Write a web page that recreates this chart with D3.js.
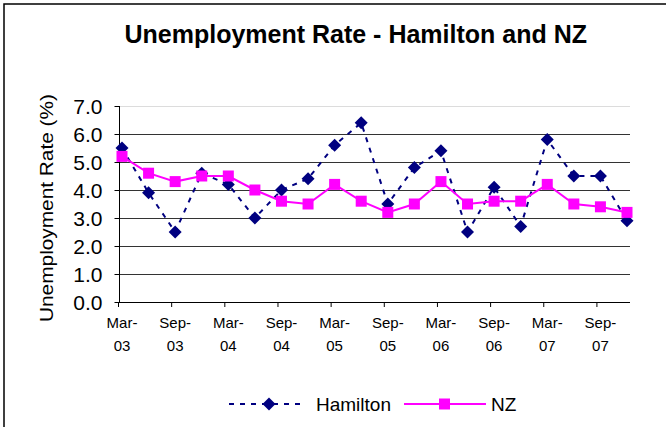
<!DOCTYPE html>
<html>
<head>
<meta charset="utf-8">
<script src="https://cdn.jsdelivr.net/npm/d3@7"></script>
<style>
  body { margin: 0; background: #fff; }
  #chart { width: 666px; height: 427px; }
  text { font-family: "Liberation Sans", Arial, sans-serif; }
</style>
</head>
<body>
<div id="chart"></div>
<script>
// quarterly categories, Mar-03 .. Dec-07
const quarters = ["Mar-03","Jun-03","Sep-03","Dec-03","Mar-04","Jun-04","Sep-04","Dec-04",
                  "Mar-05","Jun-05","Sep-05","Dec-05","Mar-06","Jun-06","Sep-06","Dec-06",
                  "Mar-07","Jun-07","Sep-07","Dec-07"];
const hamilton = [5.5, 3.9, 2.5, 4.6, 4.2, 3.0, 4.0, 4.4, 5.6, 6.4, 3.5, 4.8, 5.4, 2.5, 4.1, 2.7, 5.8, 4.5, 4.5, 2.9];
const nz       = [5.2, 4.6, 4.3, 4.5, 4.5, 4.0, 3.6, 3.5, 4.2, 3.6, 3.2, 3.5, 4.3, 3.5, 3.6, 3.6, 4.2, 3.5, 3.4, 3.2];
const yTicks = [0, 1, 2, 3, 4, 5, 6, 7];

const w = 666, h = 427;
const plot = { left: 119, right: 630, top: 106, bottom: 302 };

const svg = d3.select("#chart").append("svg")
    .attr("width", w)
    .attr("height", h);

// outer chart border (runs off the right/bottom of the picture)
svg.append("rect")
    .attr("x", 4).attr("y", 4)
    .attr("width", 700).attr("height", 500)
    .attr("fill", "#fff")
    .attr("stroke", "#000")
    .attr("stroke-width", 1.5);

// SCALES
const x = d3.scalePoint()
    .domain(quarters)
    .range([122, 627]);

const y = d3.scaleLinear()
    .domain([0, 7])
    .range([plot.bottom, plot.top]);

// title
svg.append("text")
    .attr("x", 587).attr("y", 43)
    .attr("text-anchor", "end")
    .attr("font-size", 25)
    .attr("font-weight", "bold")
    .text("Unemployment Rate - Hamilton and NZ");

// gridlines
svg.append("g")
    .selectAll("line")
    .data(yTicks.filter(d => d > 0))
    .join("line")
    .attr("x1", plot.left).attr("x2", plot.right)
    .attr("y1", d => y(d) + 0.5).attr("y2", d => y(d) + 0.5)
    .attr("stroke", d => d === 7 ? "#dcdcdc" : "#333")
    .attr("stroke-width", 1);

// Y AXIS
const yAxis = svg.append("g")
    .attr("transform", "translate(" + (plot.left + 0.5) + ",0)")
    .call(d3.axisLeft(y).tickValues(yTicks).tickFormat(d3.format(".1f")).tickSize(5).tickPadding(12));
yAxis.select(".domain").attr("stroke", "#000").attr("d", "M0," + plot.top + "V" + plot.bottom);
yAxis.selectAll(".tick line").attr("stroke", "#000");
yAxis.selectAll(".tick text")
    .attr("font-size", 21)
    .attr("font-family", "'Liberation Sans', Arial, sans-serif")
    .attr("fill", "#000")
    .attr("dy", "0.36em");

svg.append("text")
    .attr("transform", "translate(53," + ((plot.top + plot.bottom) / 2 + 4) + ") rotate(-90)")
    .attr("text-anchor", "middle")
    .attr("font-size", 19)
    .attr("textLength", 228)
    .attr("lengthAdjust", "spacingAndGlyphs")
    .text("Unemployment Rate (%)");

// X AXIS
svg.append("line")
    .attr("x1", plot.left).attr("x2", plot.right)
    .attr("y1", plot.bottom + 0.5).attr("y2", plot.bottom + 0.5)
    .attr("stroke", "#000");

const labelled = quarters.filter((d, i) => i % 2 === 0);

svg.append("g")
    .selectAll("line")
    .data(labelled)
    .join("line")
    .attr("x1", d => x(d) - 4 + 0.5).attr("x2", d => x(d) - 4 + 0.5)
    .attr("y1", plot.bottom).attr("y2", plot.bottom + 5)
    .attr("stroke", "#000");

const xl = svg.append("g")
    .selectAll("text")
    .data(labelled)
    .join("text")
    .attr("text-anchor", "middle")
    .attr("font-size", 15);
xl.append("tspan")
    .attr("x", d => x(d)).attr("y", 328)
    .text(d => d.split("-")[0] + "-");
xl.append("tspan")
    .attr("x", d => x(d)).attr("y", 351)
    .text(d => d.split("-")[1]);

// LINES
const line = d3.line()
    .x((d, i) => x(quarters[i]))
    .y(d => y(d));

const diamond = s => "M0," + (-s) + "L" + s + ",0L0," + s + "L" + (-s) + ",0Z";

function drawHamilton(g) {
    g.append("path")
        .datum(hamilton)
        .attr("d", line)
        .attr("fill", "none")
        .attr("stroke", "#000080")
        .attr("stroke-width", 2)
        .attr("stroke-dasharray", "5,6");
    g.selectAll(".dia")
        .data(hamilton)
        .join("path")
        .attr("class", "dia")
        .attr("transform", (d, i) => "translate(" + x(quarters[i]) + "," + y(d) + ")")
        .attr("d", diamond(6.5))
        .attr("fill", "#000080");
}

function drawNZ(g) {
    g.append("path")
        .datum(nz)
        .attr("d", line)
        .attr("fill", "none")
        .attr("stroke", "#ff00ff")
        .attr("stroke-width", 2);
    g.selectAll(".sq")
        .data(nz)
        .join("rect")
        .attr("class", "sq")
        .attr("x", (d, i) => x(quarters[i]) - 5.5)
        .attr("y", d => y(d) - 5.5)
        .attr("width", 11).attr("height", 11)
        .attr("fill", "#ff00ff");
}

drawHamilton(svg.append("g"));
drawNZ(svg.append("g"));

// LEGEND
const lg = svg.append("g").attr("transform", "translate(0,404)");
lg.append("line")
    .attr("x1", 229).attr("x2", 306)
    .attr("stroke", "#000080").attr("stroke-width", 2)
    .attr("stroke-dasharray", "5,6");
lg.append("path")
    .attr("transform", "translate(269,0)")
    .attr("d", diamond(6.5))
    .attr("fill", "#000080");
lg.append("text")
    .attr("x", 316).attr("y", 7)
    .attr("font-size", 19)
    .text("Hamilton");
lg.append("line")
    .attr("x1", 404).attr("x2", 486)
    .attr("stroke", "#ff00ff").attr("stroke-width", 2);
lg.append("rect")
    .attr("x", 439).attr("y", -5.5)
    .attr("width", 11).attr("height", 11)
    .attr("fill", "#ff00ff");
lg.append("text")
    .attr("x", 491).attr("y", 7)
    .attr("font-size", 19)
    .text("NZ");
</script>
</body>
</html>
